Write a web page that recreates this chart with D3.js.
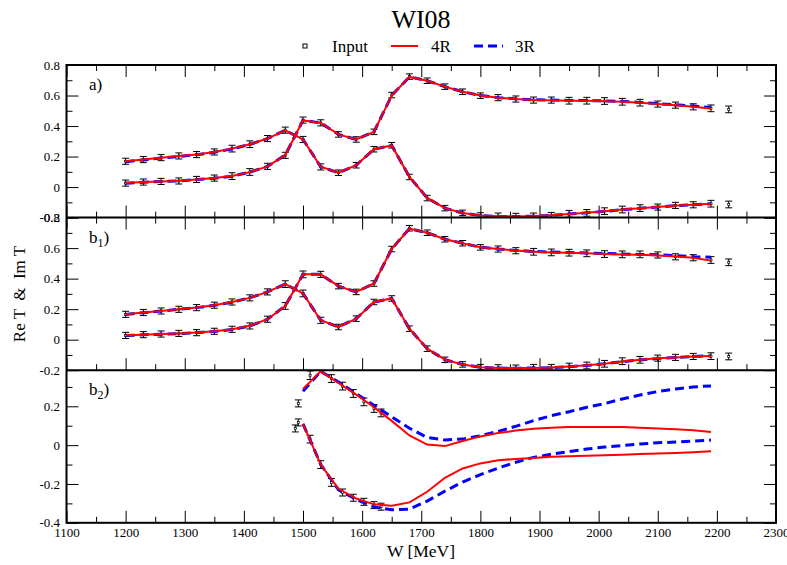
<!DOCTYPE html>
<html>
<head>
<meta charset="utf-8">
<script src="https://cdn.jsdelivr.net/npm/d3@7"></script>
<style>
    body { margin: 0; background: #fff; }
    text { font-family: "Liberation Serif", "Times New Roman", serif; fill: #000; }
</style>
</head>
<body>
<div id="chart"></div>
<script>
// DATA ----------------------------------------------
// energies of the input points (a, b1) and of the fit curves
var wData = [1200, 1230, 1260, 1290, 1320, 1350, 1380, 1410, 1440, 1470, 1500, 1530,
             1560, 1590, 1620, 1650, 1680, 1710, 1740, 1770, 1800, 1830, 1860, 1890,
             1920, 1950, 1980, 2010, 2040, 2070, 2100, 2130, 2160, 2190, 2220];
var wFit = [1200, 1230, 1260, 1290, 1320, 1350, 1380, 1410, 1440, 1470, 1500, 1530,
            1560, 1590, 1620, 1650, 1680, 1710, 1740, 1770, 1800, 1830, 1860, 1890,
            1920, 1950, 1980, 2010, 2040, 2070, 2100, 2130, 2160, 2190];

// panel a)
var imA = [0.026, 0.033, 0.037, 0.040, 0.050, 0.059, 0.072, 0.099, 0.136, 0.208, 0.439, 0.421,
           0.345, 0.312, 0.362, 0.603, 0.724, 0.697, 0.658, 0.625, 0.599, 0.586, 0.577, 0.570,
           0.570, 0.566, 0.566, 0.564, 0.559, 0.553, 0.544, 0.537, 0.526, 0.516, 0.509];
var reA = [0.169, 0.180, 0.193, 0.204, 0.213, 0.230, 0.252, 0.281, 0.318, 0.373, 0.312, 0.132,
           0.094, 0.143, 0.248, 0.274, 0.066, -0.072, -0.138, -0.169, -0.186, -0.190, -0.192, -0.190,
           -0.186, -0.175, -0.169, -0.158, -0.147, -0.138, -0.131, -0.120, -0.116, -0.109, -0.114];
var errA = [0.020, 0.020, 0.020, 0.020, 0.020, 0.020, 0.022, 0.022, 0.020, 0.020, 0.020, 0.020,
            0.018, 0.018, 0.018, 0.018, 0.018, 0.018, 0.018, 0.018, 0.018, 0.020, 0.020, 0.020,
            0.020, 0.022, 0.022, 0.022, 0.022, 0.022, 0.020, 0.020, 0.020, 0.022, 0.022];
var fit4R_imA = [0.027, 0.033, 0.037, 0.041, 0.050, 0.059, 0.072, 0.098, 0.136, 0.210, 0.437, 0.420,
                 0.345, 0.312, 0.362, 0.600, 0.722, 0.697, 0.658, 0.625, 0.600, 0.586, 0.577, 0.571,
                 0.569, 0.566, 0.565, 0.563, 0.559, 0.553, 0.545, 0.537, 0.527, 0.515];
var fit3R_imA = [0.025, 0.032, 0.037, 0.041, 0.049, 0.058, 0.071, 0.098, 0.136, 0.210, 0.437, 0.420,
                 0.345, 0.312, 0.362, 0.600, 0.722, 0.697, 0.658, 0.625, 0.600, 0.586, 0.578, 0.572,
                 0.571, 0.568, 0.567, 0.565, 0.561, 0.555, 0.547, 0.540, 0.531, 0.521];
var fit4R_reA = [0.170, 0.181, 0.192, 0.203, 0.214, 0.230, 0.252, 0.281, 0.318, 0.372, 0.312, 0.133,
                 0.094, 0.143, 0.248, 0.273, 0.067, -0.071, -0.138, -0.170, -0.186, -0.191, -0.192, -0.190,
                 -0.185, -0.176, -0.168, -0.158, -0.147, -0.138, -0.130, -0.121, -0.115, -0.109];
var fit3R_reA = [0.166, 0.178, 0.190, 0.201, 0.212, 0.228, 0.250, 0.280, 0.318, 0.372, 0.312, 0.133,
                 0.094, 0.143, 0.248, 0.273, 0.067, -0.071, -0.138, -0.170, -0.187, -0.192, -0.193, -0.191,
                 -0.186, -0.177, -0.169, -0.159, -0.148, -0.139, -0.131, -0.122, -0.116, -0.110];

// panel b1)
var imB = [0.028, 0.033, 0.037, 0.041, 0.046, 0.055, 0.068, 0.090, 0.134, 0.221, 0.428, 0.428,
           0.351, 0.313, 0.368, 0.594, 0.730, 0.701, 0.658, 0.632, 0.605, 0.594, 0.583, 0.576,
           0.572, 0.570, 0.566, 0.561, 0.559, 0.559, 0.555, 0.543, 0.537, 0.522, 0.507];
var reB = [0.166, 0.178, 0.188, 0.199, 0.210, 0.226, 0.247, 0.274, 0.313, 0.364, 0.303, 0.127,
           0.083, 0.138, 0.247, 0.270, 0.072, -0.059, -0.132, -0.162, -0.180, -0.184, -0.186, -0.184,
           -0.184, -0.176, -0.169, -0.158, -0.141, -0.132, -0.121, -0.116, -0.110, -0.108, -0.110];
var errB = [0.020, 0.020, 0.020, 0.020, 0.020, 0.020, 0.020, 0.020, 0.020, 0.022, 0.022, 0.020,
            0.018, 0.018, 0.018, 0.018, 0.018, 0.018, 0.018, 0.018, 0.018, 0.020, 0.020, 0.022,
            0.022, 0.022, 0.022, 0.022, 0.022, 0.022, 0.020, 0.020, 0.020, 0.022, 0.022];
var fit4R_imB = [0.029, 0.033, 0.037, 0.041, 0.047, 0.055, 0.068, 0.091, 0.134, 0.221, 0.428, 0.428,
                 0.351, 0.313, 0.368, 0.594, 0.728, 0.701, 0.658, 0.632, 0.606, 0.594, 0.584, 0.577,
                 0.572, 0.569, 0.566, 0.562, 0.559, 0.556, 0.552, 0.545, 0.537, 0.518];
var fit3R_imB = [0.027, 0.032, 0.036, 0.040, 0.046, 0.054, 0.067, 0.090, 0.134, 0.221, 0.428, 0.428,
                 0.351, 0.313, 0.368, 0.594, 0.728, 0.701, 0.658, 0.632, 0.606, 0.594, 0.585, 0.578,
                 0.574, 0.571, 0.568, 0.565, 0.562, 0.559, 0.556, 0.551, 0.544, 0.540];
var fit4R_reB = [0.167, 0.178, 0.188, 0.199, 0.211, 0.226, 0.247, 0.274, 0.313, 0.364, 0.303, 0.127,
                 0.084, 0.138, 0.247, 0.270, 0.072, -0.059, -0.131, -0.163, -0.180, -0.185, -0.186, -0.185,
                 -0.182, -0.176, -0.168, -0.157, -0.143, -0.132, -0.122, -0.116, -0.110, -0.107];
var fit3R_reB = [0.165, 0.177, 0.188, 0.199, 0.210, 0.225, 0.246, 0.274, 0.313, 0.364, 0.303, 0.127,
                 0.084, 0.138, 0.247, 0.270, 0.072, -0.059, -0.131, -0.163, -0.181, -0.186, -0.187, -0.186,
                 -0.183, -0.177, -0.169, -0.158, -0.144, -0.133, -0.123, -0.116, -0.110, -0.106];

// panel b2)
var wReC = [1492, 1512, 1548, 1567, 1585, 1603, 1620, 1632];
var reC = [0.215, 0.360, 0.343, 0.304, 0.266, 0.223, 0.189, 0.166];
var errReC = [0.018, 0.022, 0.020, 0.020, 0.020, 0.020, 0.020, 0.020];
var wImC = [1487, 1492, 1512, 1530, 1548, 1567, 1585, 1603, 1620, 1632];
var imC = [0.086, 0.117, 0.031, -0.100, -0.192, -0.244, -0.271, -0.292, -0.309, -0.317];
var errImC = [0.018, 0.018, 0.020, 0.020, 0.020, 0.018, 0.018, 0.018, 0.018, 0.018];
var wFitC = [1500, 1530, 1560, 1590, 1620, 1650, 1680, 1710, 1740, 1770, 1800, 1830,
             1860, 1890, 1920, 1950, 1980, 2010, 2040, 2070, 2100, 2130, 2160, 2190];
var fit4R_reC = [0.290, 0.380, 0.320, 0.260, 0.195, 0.125, 0.050, 0.003, -0.005, 0.021, 0.045, 0.062,
                 0.075, 0.084, 0.089, 0.093, 0.094, 0.094, 0.093, 0.090, 0.086, 0.082, 0.077, 0.068];
var fit3R_reC = [0.278, 0.380, 0.325, 0.265, 0.205, 0.146, 0.087, 0.040, 0.027, 0.031, 0.048, 0.071,
                 0.097, 0.126, 0.152, 0.172, 0.195, 0.214, 0.238, 0.258, 0.276, 0.289, 0.300, 0.305];
var fit4R_imC = [0.110, -0.100, -0.225, -0.275, -0.305, -0.312, -0.295, -0.240, -0.168, -0.120, -0.094, -0.078,
                 -0.071, -0.066, -0.060, -0.057, -0.055, -0.052, -0.049, -0.046, -0.043, -0.040, -0.036, -0.031];
var fit3R_imC = [0.110, -0.100, -0.230, -0.280, -0.318, -0.333, -0.330, -0.288, -0.237, -0.190, -0.152, -0.118,
                 -0.088, -0.063, -0.047, -0.033, -0.020, -0.010, -0.002, 0.006, 0.012, 0.016, 0.021, 0.026];

// ticks
var xMajor = [1100, 1200, 1300, 1400, 1500, 1600, 1700, 1800, 1900, 2000, 2100, 2200, 2300];
var xMinor = [1150, 1250, 1350, 1450, 1550, 1650, 1750, 1850, 1950, 2050, 2150, 2250];
var yMajorAB = [-0.2, 0, 0.2, 0.4, 0.6, 0.8];
var yMinorAB = [-0.1, 0.1, 0.3, 0.5, 0.7];
var yMajorC = [-0.4, -0.2, 0, 0.2];
var yMinorC = [-0.3, -0.1, 0.1, 0.3];

// LAYOUT --------------------------------------------
var width = 787, height = 565;
var plotLeft = 66.5, plotRight = 776, plotTop = 65, panelH = 152.6;
var red = '#ff0000', blue = '#0000ff';

var x = d3.scaleLinear().domain([1100, 2300]).range([plotLeft, plotRight]);
var fmt = (v) => v === 0 ? '0' : v.toFixed(1);

var panels = [
    {label: 'a', sub: null, domain: [-0.2, 0.8], major: yMajorAB, minor: yMinorAB, topTicks: true,
     data: [{w: wData, v: imA, e: errA}, {w: wData, v: reA, e: errA}],
     fits: [{w: wFit, v: fit3R_imA, c: blue}, {w: wFit, v: fit3R_reA, c: blue},
            {w: wFit, v: fit4R_imA, c: red}, {w: wFit, v: fit4R_reA, c: red}]},
    {label: 'b', sub: '1', domain: [-0.2, 0.8], major: yMajorAB, minor: yMinorAB, topTicks: true,
     data: [{w: wData, v: imB, e: errB}, {w: wData, v: reB, e: errB}],
     fits: [{w: wFit, v: fit3R_imB, c: blue}, {w: wFit, v: fit3R_reB, c: blue},
            {w: wFit, v: fit4R_imB, c: red}, {w: wFit, v: fit4R_reB, c: red}]},
    {label: 'b', sub: '2', domain: [-0.4, 0.386], major: yMajorC, minor: yMinorC, topTicks: false,
     data: [{w: wReC, v: reC, e: errReC}, {w: wImC, v: imC, e: errImC}],
     fits: [{w: wFitC, v: fit3R_reC, c: blue}, {w: wFitC, v: fit3R_imC, c: blue},
            {w: wFitC, v: fit4R_reC, c: red}, {w: wFitC, v: fit4R_imC, c: red}]}
];

var svg = d3.select('#chart')
    .append('svg')
        .attr('width', width)
        .attr('height', height);

svg.append('rect').attr('width', width).attr('height', height).attr('fill', '#fff');

// title and legend
svg.append('text')
    .attr('x', 421).attr('y', 28)
    .attr('text-anchor', 'middle')
    .attr('font-size', '26px')
    .text('WI08');

var legend = svg.append('g').attr('font-size', '17px');
legend.append('rect')
    .attr('x', 303).attr('y', 44).attr('width', 4).attr('height', 4)
    .attr('fill', '#fff').attr('stroke', '#000').attr('stroke-width', 1);
legend.append('text').attr('x', 332).attr('y', 52).text('Input');
legend.append('line')
    .attr('x1', 391).attr('x2', 418).attr('y1', 46).attr('y2', 46)
    .attr('stroke', red).attr('stroke-width', 2);
legend.append('text').attr('x', 431).attr('y', 52).text('4R');
legend.append('line')
    .attr('x1', 474).attr('x2', 503).attr('y1', 46).attr('y2', 46)
    .attr('stroke', blue).attr('stroke-width', 3).attr('stroke-dasharray', '9,5');
legend.append('text').attr('x', 515).attr('y', 52).text('3R');

var line = d3.line().x((d) => x(d[0]));

panels.forEach((p, i) => {
    var top = plotTop + i * panelH, bottom = top + panelH;
    var y = d3.scaleLinear().domain(p.domain).range([bottom, top]);
    var g = svg.append('g');

    // clip the curves to the panel
    var clipId = 'clip' + i;
    svg.append('clipPath').attr('id', clipId)
        .append('rect')
        .attr('x', plotLeft).attr('y', top)
        .attr('width', plotRight - plotLeft).attr('height', panelH);

    // y axes, ticks inward on both sides
    var styleAxis = (a) => {
        a.select('.domain').remove();
        a.selectAll('line').attr('stroke', '#000');
        a.selectAll('text')
            .attr('font-family', '"Liberation Serif", "Times New Roman", serif')
            .attr('font-size', '13px')
            .attr('fill', '#000');
    };
    g.append('g').attr('transform', `translate(${plotLeft},0)`)
        .call(d3.axisLeft(y).tickValues(p.major).tickSize(-12).tickPadding(6.5).tickFormat(fmt))
        .call(styleAxis);
    g.append('g').attr('transform', `translate(${plotLeft},0)`)
        .call(d3.axisLeft(y).tickValues(p.minor).tickSize(-6).tickFormat(''))
        .call(styleAxis);
    g.append('g').attr('transform', `translate(${plotRight},0)`)
        .call(d3.axisRight(y).tickValues(p.major).tickSize(-12).tickFormat(''))
        .call(styleAxis);
    g.append('g').attr('transform', `translate(${plotRight},0)`)
        .call(d3.axisRight(y).tickValues(p.minor).tickSize(-6).tickFormat(''))
        .call(styleAxis);

    // x axes
    var last = i === panels.length - 1;
    g.append('g').attr('transform', `translate(0,${bottom})`)
        .call(d3.axisBottom(x).tickValues(xMajor).tickSize(-12).tickPadding(5)
            .tickFormat(last ? d3.format('d') : ''))
        .call(styleAxis);
    g.append('g').attr('transform', `translate(0,${bottom})`)
        .call(d3.axisBottom(x).tickValues(xMinor).tickSize(-6).tickFormat(''))
        .call(styleAxis);
    if (p.topTicks) {
        g.append('g').attr('transform', `translate(0,${top})`)
            .call(d3.axisTop(x).tickValues(xMajor).tickSize(-12).tickFormat(''))
            .call(styleAxis);
        g.append('g').attr('transform', `translate(0,${top})`)
            .call(d3.axisTop(x).tickValues(xMinor).tickSize(-6).tickFormat(''))
            .call(styleAxis);
    }

    // input points with error bars
    var pts = g.append('g').attr('clip-path', `url(#${clipId})`);
    p.data.forEach((s) => {
        var rows = s.w.map((w, k) => ({w: w, v: s.v[k], e: s.e[k]}));
        var bar = pts.selectAll(null).data(rows).enter().append('g')
            .attr('stroke', '#000').attr('stroke-width', 1);
        bar.append('line')
            .attr('x1', (d) => x(d.w)).attr('x2', (d) => x(d.w))
            .attr('y1', (d) => y(d.v - d.e)).attr('y2', (d) => y(d.v + d.e));
        bar.append('line')
            .attr('x1', (d) => x(d.w) - 3.5).attr('x2', (d) => x(d.w) + 3.5)
            .attr('y1', (d) => y(d.v + d.e)).attr('y2', (d) => y(d.v + d.e));
        bar.append('line')
            .attr('x1', (d) => x(d.w) - 3.5).attr('x2', (d) => x(d.w) + 3.5)
            .attr('y1', (d) => y(d.v - d.e)).attr('y2', (d) => y(d.v - d.e));
        bar.append('rect')
            .attr('x', (d) => x(d.w) - 1).attr('y', (d) => y(d.v) - 1)
            .attr('width', 2).attr('height', 2)
            .attr('stroke-width', 0.7)
            .attr('fill', '#fff');
    });

    // model curves
    var curves = g.append('g').attr('clip-path', `url(#${clipId})`);
    p.fits.forEach((f) => {
        curves.append('path')
            .datum(f.w.map((w, k) => [w, f.v[k]]))
            .attr('fill', 'none')
            .attr('stroke', f.c)
            .attr('stroke-width', f.c === blue ? 3 : 2)
            .attr('stroke-dasharray', f.c === blue ? '9,5' : null)
            .attr('d', line.y((d) => y(d[1])));
    });

    // panel label
    var lab = g.append('text')
        .attr('x', 89).attr('y', top + 25)
        .attr('font-size', '17px')
        .text(p.label);
    if (p.sub) {
        lab.append('tspan').attr('font-size', '12px').attr('dy', 4).text(p.sub);
        lab.append('tspan').attr('dy', -4).text(')');
    } else {
        lab.append('tspan').text(')');
    }
});

// frame and panel separators
svg.append('rect')
    .attr('x', plotLeft).attr('y', plotTop)
    .attr('width', plotRight - plotLeft).attr('height', panelH * 3)
    .attr('fill', 'none').attr('stroke', '#000').attr('stroke-width', 2);
[1, 2].forEach((k) => {
    svg.append('line')
        .attr('x1', plotLeft).attr('x2', plotRight)
        .attr('y1', plotTop + k * panelH).attr('y2', plotTop + k * panelH)
        .attr('stroke', '#000').attr('stroke-width', 2);
});

// axis titles
svg.append('text')
    .attr('transform', 'translate(25,294) rotate(-90)')
    .attr('text-anchor', 'middle')
    .attr('font-size', '17px')
    .attr('xml:space', 'preserve')
    .style('white-space', 'pre')
    .text('Re T  &  Im T');
svg.append('text')
    .attr('x', 421).attr('y', 557)
    .attr('text-anchor', 'middle')
    .attr('font-size', '17.5px')
    .text('W [MeV]');
</script>
</body>
</html>
